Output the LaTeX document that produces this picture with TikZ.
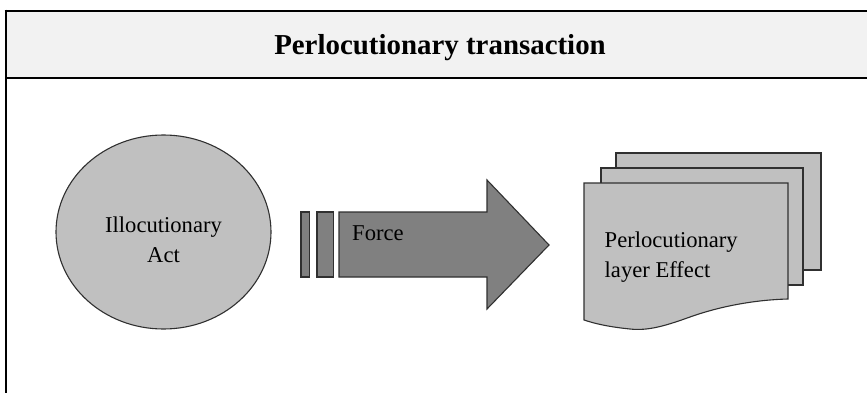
\documentclass[tikz,border=0pt]{standalone}
\usepackage{fontspec}
\setmainfont{Liberation Serif}
\usetikzlibrary{shapes.geometric}
\definecolor{hdrfill}{HTML}{F2F2F2}
\definecolor{lightshape}{HTML}{C0C0C0}
\definecolor{darkshape}{HTML}{808080}
\definecolor{outl}{HTML}{303030}
\tikzset{
  frameline/.style={line width=2.6pt, black},
  lightbox/.style={fill=lightshape, draw=outl, line width=1.1pt},
  darkbox/.style={fill=darkshape, draw=outl, line width=1.1pt},
  bodytext/.style={font=\fontsize{22.6}{30}\selectfont, text=black, inner sep=0pt},
}
\begin{document}
\begin{tikzpicture}[x=1pt, y=-1pt]
\useasboundingbox (0,0) rectangle (867,393);
% header
\fill[hdrfill] (6,11) rectangle (870,78);
\draw[frameline] (4.7,11) -- (870,11);
\draw[frameline] (6,78) -- (870,78);
\draw[frameline] (6,9.7) -- (6,395);
\node[font=\fontsize{28.9}{34}\selectfont\bfseries, anchor=base, inner sep=0pt] (title) at (440,55) {Perlocutionary transaction};
% ellipse
\node[ellipse, lightbox, minimum width=215pt, minimum height=194pt, inner sep=0pt] (ill) at (163.5,232) {};
\node[bodytext, anchor=base, align=center] (illtext) at (163.5,262) {Illocutionary\\Act};
% bars and arrow
\draw[darkbox] (301,212) rectangle (309.5,277);
\draw[darkbox] (317,212) rectangle (333.5,277);
\draw[darkbox] (339,212) -- (487,212) -- (487,180) -- (549,245) -- (487,309) -- (487,277) -- (339,277) -- cycle;
\node[bodytext, anchor=base west] (force) at (352,240) {Force};
% stacked pages
\draw[lightbox] (616,153) rectangle (821,270);
\draw[lightbox] (601,168) rectangle (803,285);
\draw[lightbox] (584,183) -- (788,183) -- (788,299)
  .. controls (750,300) and (715,308) .. (690,317)
  .. controls (665,326) and (648,331) .. (630,329)
  .. controls (610,327) and (596,324) .. (584,320) -- cycle;
\node[bodytext, anchor=base west, align=left] (effect) at (604.5,277) {Perlocutionary\\layer Effect};
\end{tikzpicture}
\end{document}
